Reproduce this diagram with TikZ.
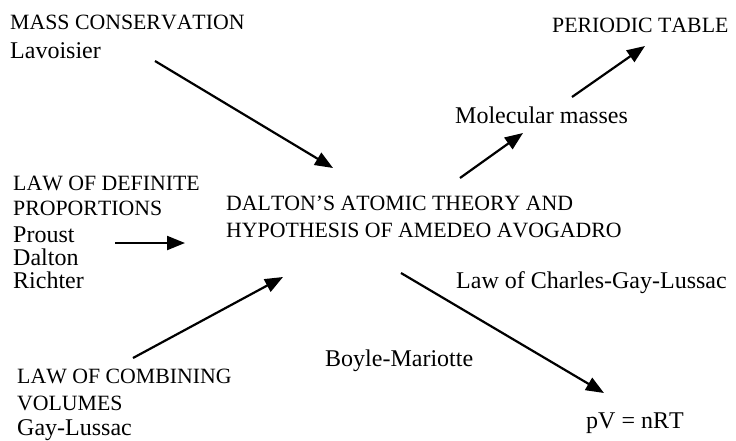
\documentclass[tikz,border=0pt]{standalone}
\usepackage{fontspec}
\setmainfont[Kerning=Off]{Liberation Serif}
\usetikzlibrary{arrows.meta}
\begin{document}
\begin{tikzpicture}[x=1pt,y=-1pt,
  caps/.style={anchor=base west,inner sep=0pt,font=\fontsize{21.8}{25}\selectfont},
  txt/.style={anchor=base west,inner sep=0pt,font=\fontsize{24}{27}\selectfont},
  arr/.style={line width=2.2pt,-{Triangle[length=18pt,width=14pt]}}]
\useasboundingbox (0,0) rectangle (736,440);
% texts
\node[caps] (mass) at (10,29) {MASS CONSERVATION};
\node[txt] (lav) at (10,58) {Lavoisier};
\node[caps] (per) at (552,32) {PERIODIC TABLE};
\node[txt] (mol) at (455,123) {Molecular masses};
\node[caps] (def1) at (13,190) {LAW OF DEFINITE};
\node[caps] (def2) at (13,215) {PROPORTIONS};
\node[txt] (prou) at (13,242) {Proust};
\node[txt] (dalt) at (13,265) {Dalton};
\node[txt] (rich) at (13,288) {Richter};
\node[caps] (th1) at (226,210) {DALTON'S ATOMIC THEORY AND};
\node[caps] (th2) at (226,237) {HYPOTHESIS OF AMEDEO AVOGADRO};
\node[txt] (cgl) at (456,288) {Law of Charles-Gay-Lussac};
\node[txt] (boyle) at (325,366) {Boyle-Mariotte};
\node[caps] (comb1) at (17,383) {LAW OF COMBINING};
\node[caps] (comb2) at (17,410) {VOLUMES};
\node[txt] (gay) at (17,435) {Gay-Lussac};
\node[txt] (gas) at (586,428) {pV = nRT};
% arrow ends
\coordinate (a1s) at (155,61);  \coordinate (a1e) at (333,168);
\coordinate (a2s) at (572,97);  \coordinate (a2e) at (645,46);
\coordinate (a3s) at (460,178); \coordinate (a3e) at (523,133);
\coordinate (a4s) at (115,243); \coordinate (a4e) at (185,243);
\coordinate (a5s) at (133,358); \coordinate (a5e) at (283,277);
\coordinate (a6s) at (401,273); \coordinate (a6e) at (604,393);
\draw[arr] (a1s) -- (a1e);
\draw[arr] (a2s) -- (a2e);
\draw[arr] (a3s) -- (a3e);
\draw[arr] (a4s) -- (a4e);
\draw[arr] (a5s) -- (a5e);
\draw[arr] (a6s) -- (a6e);
\end{tikzpicture}
\end{document}
